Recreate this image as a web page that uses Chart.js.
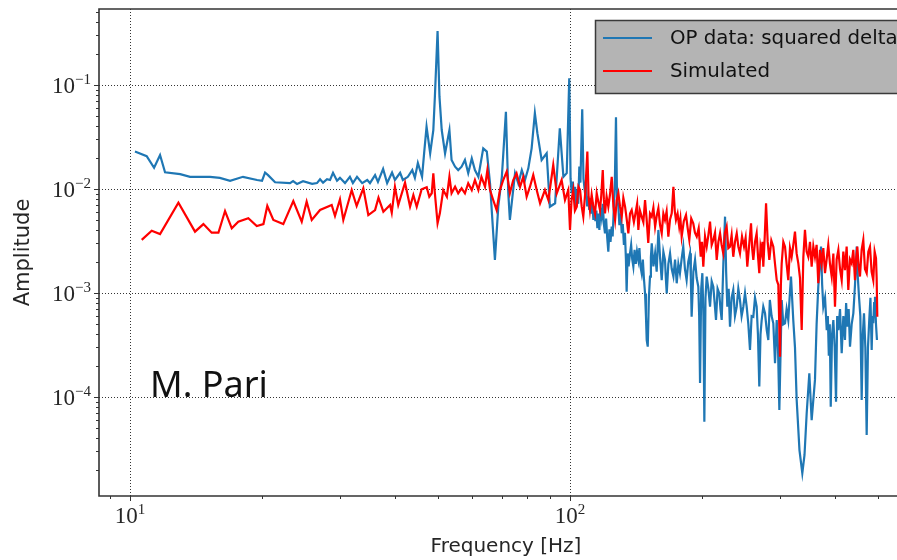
<!DOCTYPE html>
<html>
<head>
<meta charset="utf-8">
<script src="https://cdn.jsdelivr.net/npm/chart.js@4.4.0/dist/chart.umd.min.js"></script>
<style>
  html, body { margin: 0; padding: 0; background: #fff; overflow: hidden; }
  #wrap { width: 897px; height: 560px; overflow: hidden; }
  canvas { display: block; }
</style>
</head>
<body>
<div id="wrap"><canvas id="psd" width="920" height="560"></canvas></div>
<script>
// measured spectrum (OP data): [frequency Hz, amplitude]
const opData = [
  [10.26, 0.0229], [10.91, 0.0207], [11.34, 0.0160], [11.70, 0.0212], [12.01, 0.0145], [13.0, 0.0139], [13.69, 0.0131],
  [15.2, 0.0131], [16.0, 0.0128], [16.88, 0.0120], [18.06, 0.0131], [19.44, 0.0122], [19.95, 0.0120], [20.27, 0.0144],
  [20.59, 0.0136], [21.36, 0.0116], [23.1, 0.0114], [23.47, 0.0119], [23.96, 0.0112], [24.73, 0.0119], [25.93, 0.0112],
  [26.6, 0.0114], [27.03, 0.0124], [27.46, 0.0115], [28.04, 0.0124], [28.48, 0.0122], [28.93, 0.0143], [29.54, 0.0120],
  [30.0, 0.0128], [30.8, 0.0114], [31.6, 0.0131], [32.1, 0.0114], [32.8, 0.0131], [33.7, 0.0114], [34.6, 0.0122],
  [35.1, 0.0114], [36.05, 0.0136], [36.6, 0.0117], [37.6, 0.0156], [38.4, 0.0114], [39.4, 0.0144], [40.0, 0.0122],
  [41.1, 0.0143], [41.7, 0.0122], [42.8, 0.0131], [43.8, 0.0152], [44.4, 0.0128], [45.1, 0.0178], [46.1, 0.0131],
  [46.6, 0.0220], [47.2, 0.0397], [48.1, 0.0220], [48.9, 0.0369], [49.3, 0.0772], [50.0, 0.330], [50.5, 0.0772],
  [51.1, 0.0369], [52.0, 0.0220], [53.2, 0.0369], [53.8, 0.0190], [54.8, 0.0164], [55.7, 0.0152], [56.7, 0.0164],
  [57.7, 0.0190], [58.7, 0.0142], [59.8, 0.0197], [60.8, 0.0152], [61.9, 0.0131], [63.5, 0.0246], [64.7, 0.0229],
  [65.8, 0.0113], [67.5, 0.00208], [68.7, 0.00676], [70.0, 0.0131], [71.5, 0.0553], [72.4, 0.0091], [73.0, 0.00504],
  [75.0, 0.0142], [76.3, 0.0113], [77.7, 0.0152], [79.0, 0.0122], [80.4, 0.0158], [81.8, 0.0246], [83.2, 0.0535],
  [84.3, 0.0344], [86.2, 0.0190], [88.5, 0.0220], [90.0, 0.00676], [92.5, 0.00729], [94.8, 0.0384], [96.6, 0.0131],
  [98.3, 0.0142], [99.6, 0.116], [100.3, 0.0125], [100.9, 0.0091], [101.5, 0.0118], [102.1, 0.0082], [102.7, 0.0105],
  [103.2, 0.0068], [103.8, 0.0098], [104.4, 0.0072], [105.0, 0.0164], [105.6, 0.0115], [106.6, 0.0584], [107.3, 0.0125],
  [108.2, 0.0091], [108.8, 0.0105], [109.4, 0.0068], [110.0, 0.0085], [110.6, 0.00628], [111.2, 0.0082], [111.8, 0.0058],
  [112.4, 0.0075], [113.0, 0.00504], [113.6, 0.0068], [114.2, 0.0049], [114.8, 0.0062], [115.4, 0.0042], [116.0, 0.0058],
  [116.6, 0.00404], [117.3, 0.0066], [118.0, 0.00542], [118.7, 0.0072], [119.4, 0.0046], [120.1, 0.00375], [120.8, 0.0052],
  [121.5, 0.0034], [122.2, 0.00250], [122.9, 0.0041], [123.6, 0.0031], [124.4, 0.00434], [125.0, 0.0035], [125.7, 0.0062],
  [126.4, 0.0105], [127.2, 0.0489], [127.9, 0.0082], [128.8, 0.00676], [129.5, 0.0045], [130.3, 0.0058], [131.1, 0.00375],
  [131.8, 0.0046], [132.6, 0.0029], [133.3, 0.0038], [134.0, 0.0021], [134.5, 0.00103], [135.2, 0.0024], [135.9, 0.0018],
  [136.9, 0.00241], [137.7, 0.0029], [138.5, 0.0021], [139.3, 0.00179], [140.2, 0.0026], [141.1, 0.0019], [142.0, 0.0025],
  [143.0, 0.00208], [143.8, 0.0027], [144.6, 0.0018], [145.5, 0.00155], [146.4, 0.0021], [147.2, 0.0014], [148.1, 0.00099],
  [148.8, 0.0006], [149.4, 0.000353], [150.2, 0.000305], [151.1, 0.0009], [152.0, 0.00144], [152.7, 0.0022], [153.4, 0.00301],
  [154.7, 0.0018], [156.1, 0.00241], [157.4, 0.0016], [158.8, 0.00404], [160.2, 0.0022], [161.6, 0.00133], [163.0, 0.0025],
  [164.4, 0.00208], [165.1, 0.0014], [165.9, 0.00099], [167.3, 0.0019], [168.8, 0.00241], [170.3, 0.0017], [171.8, 0.00144],
  [173.3, 0.0021], [174.8, 0.00124], [176.3, 0.0019], [177.8, 0.00155], [179.3, 0.0021], [180.9, 0.00279], [182.5, 0.0017],
  [184.1, 0.00133], [185.7, 0.0020], [187.4, 0.00241], [188.2, 0.0014], [189.0, 0.00059], [190.7, 0.0016], [192.4, 0.00208],
  [194.0, 0.0014], [195.7, 0.00115], [196.6, 0.0006], [197.5, 0.000136], [198.7, 0.0011], [199.9, 0.00155], [201.0, 0.0006],
  [202.0, 0.0000579], [203.2, 0.0009], [204.5, 0.00144], [206.3, 0.0011], [208.1, 0.000738], [209.9, 0.0013], [211.7, 0.00115],
  [213.2, 0.0008], [214.7, 0.00055], [216.5, 0.0011], [218.4, 0.00099], [219.8, 0.0007], [221.2, 0.00055], [223.1, 0.0019],
  [225.1, 0.00542], [226.4, 0.0016], [227.8, 0.000738], [229.4, 0.0011], [231.0, 0.000475], [233.0, 0.0009], [235.0, 0.00107],
  [237.1, 0.0006], [239.3, 0.000738], [241.3, 0.0011], [243.4, 0.000857], [245.5, 0.0006], [247.7, 0.000738], [249.9, 0.001],
  [252.1, 0.000738], [254.3, 0.0005], [256.5, 0.000283], [258.7, 0.0006], [261.0, 0.00059], [263.3, 0.0009], [265.6, 0.000738],
  [267.4, 0.0004], [269.3, 0.000126], [271.0, 0.0004], [272.7, 0.00055], [275.0, 0.000738], [277.5, 0.000638], [280.0, 0.00044],
  [282.3, 0.000353], [284.6, 0.000857], [287.2, 0.0006], [289.8, 0.000511], [292.4, 0.000211], [295.0, 0.00055], [297.0, 0.0003],
  [299.1, 0.000075], [302.8, 0.000857], [305.4, 0.0005], [308.1, 0.000511], [310.7, 0.0007], [313.4, 0.00055], [315.6, 0.0009],
  [317.9, 0.00144], [321.7, 0.00055], [324.6, 0.0003], [327.5, 0.0000936], [332.3, 0.0000309], [337.3, 0.0000185], [341.2, 0.0000277],
  [345.1, 0.0000697], [349.9, 0.000169], [354.2, 0.000060], [360.4, 0.000146], [363.5, 0.0005], [366.7, 0.00115], [372.0, 0.00279],
  [374.2, 0.0012], [376.5, 0.000738], [379.9, 0.0009], [383.3, 0.00044], [385.5, 0.0006], [387.5, 0.00025], [389.4, 0.0005],
  [391.4, 0.0000807], [394.1, 0.0004], [396.8, 0.00055], [399.6, 0.0003], [402.4, 0.0000902], [404.8, 0.0006], [407.3, 0.00044],
  [410.9, 0.0007], [414.5, 0.000263], [418.1, 0.0006], [421.7, 0.000353], [424.2, 0.0008], [426.8, 0.000474], [429.9, 0.0007],
  [432.9, 0.000305], [436.7, 0.0005], [440.5, 0.000638], [444.4, 0.0012], [448.4, 0.00279], [451.1, 0.0014], [453.8, 0.00092],
  [457.0, 0.0006], [460.2, 0.0000936], [463.0, 0.0004], [465.8, 0.000638], [469.1, 0.0003], [472.4, 0.0000432], [475.6, 0.0003],
  [478.8, 0.00055], [481.8, 0.0009], [484.9, 0.000283], [487.0, 0.0006], [489.0, 0.000511], [491.2, 0.0008], [493.4, 0.00092],
  [496.0, 0.0005], [498.5, 0.000353]
];

// simulated spectrum: [frequency Hz, amplitude]
const simData = [
  [10.63, 0.00324], [11.2, 0.00397], [11.70, 0.00369], [12.88, 0.00738], [14.05, 0.00389], [14.68, 0.0046], [15.33, 0.0038],
  [15.88, 0.0038], [16.44, 0.00614], [17.03, 0.00419], [17.62, 0.00485], [18.57, 0.00523], [19.41, 0.00441], [20.1, 0.0046],
  [20.51, 0.00687], [21.17, 0.00504], [22.3, 0.0046], [23.5, 0.00767], [24.56, 0.00485], [25.2, 0.00755], [25.88, 0.00504],
  [27.03, 0.00628], [28.73, 0.00702], [29.23, 0.0055], [30.0, 0.00796], [30.53, 0.00504], [31.9, 0.00977], [32.74, 0.00687],
  [33.9, 0.01016], [34.8, 0.00562], [36.05, 0.00628], [36.7, 0.00824], [37.65, 0.00605], [39.0, 0.00702], [39.34, 0.00593],
  [40.0, 0.01052], [40.7, 0.00702], [42.17, 0.0115], [43.3, 0.00676], [44.05, 0.00875], [44.83, 0.00676], [46.0, 0.00993],
  [47.24, 0.01038], [47.88, 0.00843], [48.5, 0.0091], [48.9, 0.01416], [49.3, 0.0091], [50.0, 0.00468], [50.6, 0.00584],
  [51.5, 0.00977], [52.5, 0.00843], [53.2, 0.01313], [53.8, 0.0091], [54.8, 0.01052], [55.7, 0.0091], [56.7, 0.01016],
  [57.7, 0.0091], [58.7, 0.01135], [59.8, 0.00977], [60.8, 0.0122], [61.9, 0.00977], [62.9, 0.0131], [64.1, 0.01052],
  [64.9, 0.01524], [65.8, 0.00977], [66.9, 0.00784], [68.1, 0.00628], [69.3, 0.00977], [70.5, 0.0122], [71.8, 0.01467],
  [73.0, 0.0091], [74.3, 0.0122], [75.6, 0.01416], [77.0, 0.01052], [78.3, 0.0131], [79.7, 0.00843], [81.1, 0.01052],
  [82.5, 0.01364], [84.0, 0.00977], [85.5, 0.00729], [87.7, 0.00977], [89.3, 0.00784], [91.6, 0.01702], [93.3, 0.0091],
  [95.7, 0.0122], [97.4, 0.00784], [99.1, 0.00977], [100.0, 0.00404], [100.8, 0.0078], [101.7, 0.00977], [102.6, 0.0062],
  [103.6, 0.00676], [104.5, 0.0105], [105.4, 0.00977], [106.3, 0.0068], [107.2, 0.00542], [108.3, 0.0092], [109.5, 0.0229],
  [110.2, 0.0085], [111.0, 0.00628], [112.0, 0.0088], [113.0, 0.00676], [114.0, 0.0058], [115.0, 0.0091], [116.0, 0.0075],
  [117.0, 0.00628], [117.8, 0.0088], [118.7, 0.0152], [119.4, 0.0079], [120.1, 0.00584], [121.1, 0.0085], [122.2, 0.00676],
  [123.3, 0.0089], [124.4, 0.0131], [125.5, 0.0068], [126.6, 0.00504], [127.7, 0.0078], [128.8, 0.0091], [129.9, 0.0068],
  [131.1, 0.00542], [132.2, 0.0082], [133.4, 0.00676], [134.5, 0.0052], [135.7, 0.00375], [136.9, 0.0058], [138.1, 0.00628],
  [139.7, 0.0048], [141.3, 0.00628], [142.1, 0.0072], [143.0, 0.00404], [144.2, 0.0062], [145.5, 0.00542], [146.8, 0.0048],
  [148.1, 0.00784], [149.3, 0.0052], [150.6, 0.00303], [152.0, 0.0058], [153.4, 0.00542], [154.7, 0.0066], [156.1, 0.00434],
  [157.4, 0.0055], [158.8, 0.00652], [160.2, 0.0045], [161.6, 0.00375], [163.0, 0.0058], [164.4, 0.00504], [165.8, 0.0061],
  [167.3, 0.00348], [168.8, 0.0051], [170.3, 0.00584], [171.8, 0.01052], [173.0, 0.0062], [174.1, 0.00504], [175.6, 0.0058],
  [177.1, 0.00434], [178.2, 0.0052], [179.4, 0.00348], [181.4, 0.0049], [183.5, 0.00562], [185.1, 0.0042], [186.7, 0.00324],
  [188.6, 0.0052], [190.6, 0.00468], [192.3, 0.0038], [194.1, 0.00348], [196.1, 0.0042], [198.2, 0.00223], [199.5, 0.0031],
  [200.9, 0.00179], [202.7, 0.0035], [204.5, 0.00279], [206.3, 0.0036], [208.1, 0.00485], [209.9, 0.0029], [211.7, 0.00324],
  [213.6, 0.0038], [215.5, 0.00208], [217.4, 0.0031], [219.3, 0.00375], [221.1, 0.0029], [223.0, 0.00241], [225.0, 0.0038],
  [227.0, 0.00434], [229.0, 0.0027], [231.0, 0.00279], [233.0, 0.0036], [235.0, 0.00223], [237.1, 0.0031], [239.3, 0.00375],
  [241.3, 0.0028], [243.4, 0.00241], [246.0, 0.0035], [248.6, 0.00279], [250.7, 0.0034], [252.9, 0.00179], [255.4, 0.0029],
  [257.9, 0.00468], [259.4, 0.0027], [261.0, 0.00208], [263.3, 0.0031], [265.6, 0.00375], [267.4, 0.0023], [269.3, 0.00155],
  [271.0, 0.0028], [272.7, 0.00241], [273.8, 0.0031], [275.0, 0.00179], [277.0, 0.0034], [279.0, 0.00729], [281.4, 0.0031],
  [283.8, 0.00208], [286.8, 0.0032], [289.8, 0.00279], [292.4, 0.0019], [295.0, 0.00133], [297.5, 0.0012], [300.1, 0.000244],
  [301.5, 0.0012], [302.8, 0.00193], [305.4, 0.0031], [308.1, 0.00279], [310.7, 0.0019], [313.4, 0.00133], [316.2, 0.0027],
  [319.0, 0.00223], [321.8, 0.0029], [324.6, 0.00389], [327.4, 0.0024], [330.3, 0.00193], [333.2, 0.0014], [336.2, 0.00044],
  [339.1, 0.0022], [342.0, 0.00404], [345.0, 0.0025], [348.0, 0.00223], [351.1, 0.0031], [354.2, 0.00179], [357.3, 0.0028],
  [360.4, 0.00223], [363.5, 0.0029], [366.7, 0.00124], [370.0, 0.0026], [373.3, 0.00193], [376.5, 0.0027], [379.8, 0.00155],
  [383.1, 0.0021], [386.4, 0.0029], [389.9, 0.0019], [393.4, 0.00144], [396.8, 0.0024], [400.2, 0.000738], [403.7, 0.0021],
  [407.3, 0.00259], [410.9, 0.0017], [414.5, 0.00133], [418.1, 0.0025], [421.7, 0.00166], [425.4, 0.0028], [429.1, 0.00107],
  [432.9, 0.0021], [436.7, 0.00193], [440.5, 0.0026], [444.4, 0.00133], [447.1, 0.0021], [449.8, 0.00279], [453.0, 0.0018],
  [456.1, 0.00144], [460.1, 0.0026], [464.1, 0.00324], [468.2, 0.0017], [472.4, 0.00155], [476.5, 0.0025], [480.6, 0.00279],
  [484.8, 0.0016], [489.0, 0.00133], [492.5, 0.0025], [496.0, 0.00216], [497.7, 0.0014], [499.4, 0.00059]
];

const seriesNames = ['OP data: squared delta', 'Simulated'];
const seriesColors = ['#1f77b4', '#ff0000'];

// axis ticks (major decades) and their labels as 10^exp
const xMajor = [10, 100];
const xMajorExp = ['1', '2'];
const yMajor = [1e-1, 1e-2, 1e-3, 1e-4];
const yMajorExp = ['\u22121', '\u22122', '\u22123', '\u22124'];

const xLimits = [8.5, 602];
const yLimits = [1.117e-5, 0.538];

const toPoints = rows => rows.map(r => ({ x: r[0], y: r[1] }));

const serif = '"Liberation Serif", "DejaVu Serif", serif';
const sans = '"DejaVu Sans", sans-serif';
const ink = '#262626';

function powLabel(ctx, exp) {
  ctx.font = '23px ' + serif;
  const wb = ctx.measureText('10').width;
  ctx.font = '15px ' + serif;
  const we = ctx.measureText(exp).width;
  return { wb: wb, we: we };
}

const mplLook = {
  id: 'mplLook',
  beforeDatasetsDraw(chart) {
    const { ctx, chartArea: a, scales: { x, y } } = chart;
    ctx.save();
    ctx.strokeStyle = '#000';
    ctx.lineWidth = 0.8;
    ctx.setLineDash([1, 2]);
    xMajor.forEach(v => {
      const px = Math.round(x.getPixelForValue(v)) + 0.5;
      ctx.beginPath(); ctx.moveTo(px, a.top); ctx.lineTo(px, a.bottom); ctx.stroke();
    });
    yMajor.forEach(v => {
      const py = Math.round(y.getPixelForValue(v)) + 0.5;
      ctx.beginPath(); ctx.moveTo(a.left, py); ctx.lineTo(a.right, py); ctx.stroke();
    });
    ctx.restore();
  },
  afterDraw(chart) {
    const { ctx, chartArea: a, scales: { x, y } } = chart;
    ctx.save();

    // spines
    ctx.strokeStyle = '#333';
    ctx.lineWidth = 1.6;
    ctx.beginPath();
    ctx.moveTo(a.right, a.top); ctx.lineTo(a.left, a.top);
    ctx.lineTo(a.left, a.bottom); ctx.lineTo(a.right, a.bottom);
    ctx.stroke();

    // tick marks, major and minor
    ctx.lineWidth = 1;
    for (let d = 1; d <= 100; d *= 10) {
      for (let k = 1; k < 10; k++) {
        const v = k * d;
        if (v < xLimits[0] || v > xLimits[1]) continue;
        const px = Math.round(x.getPixelForValue(v)) + 0.5;
        const len = k === 1 ? 5 : 3;
        ctx.beginPath(); ctx.moveTo(px, a.bottom); ctx.lineTo(px, a.bottom + len); ctx.stroke();
      }
    }
    for (let d = 1e-5; d <= 0.11; d *= 10) {
      for (let k = 1; k < 10; k++) {
        const v = k * d;
        if (v < yLimits[0] || v > yLimits[1]) continue;
        const py = Math.round(y.getPixelForValue(v)) + 0.5;
        const len = k === 1 ? 5 : 3;
        ctx.beginPath(); ctx.moveTo(a.left, py); ctx.lineTo(a.left - len, py); ctx.stroke();
      }
    }

    // tick labels
    ctx.fillStyle = ink;
    ctx.textBaseline = 'alphabetic';
    ctx.textAlign = 'left';
    yMajor.forEach((v, i) => {
      const py = y.getPixelForValue(v);
      const m = powLabel(ctx, yMajorExp[i]);
      const right = a.left - 8;
      ctx.font = '23px ' + serif;
      ctx.fillText('10', right - m.we - m.wb, py + 8);
      ctx.font = '15px ' + serif;
      ctx.fillText(yMajorExp[i], right - m.we, py - 1);
    });
    xMajor.forEach((v, i) => {
      const px = x.getPixelForValue(v);
      const m = powLabel(ctx, xMajorExp[i]);
      const left = px - (m.wb + m.we) / 2;
      ctx.font = '23px ' + serif;
      ctx.fillText('10', left, a.bottom + 27);
      ctx.font = '15px ' + serif;
      ctx.fillText(xMajorExp[i], left + m.wb, a.bottom + 18);
    });

    // axis titles
    ctx.font = '20px ' + sans;
    ctx.textAlign = 'center';
    ctx.textBaseline = 'middle';
    ctx.fillText('Frequency [Hz]', (a.left + a.right) / 2, 547);
    ctx.save();
    ctx.translate(24, (a.top + a.bottom) / 2);
    ctx.rotate(-Math.PI / 2);
    ctx.font = '21px ' + sans;
    ctx.fillText('Amplitude', 0, 0);
    ctx.restore();

    // legend
    const lx = 595, ly = 20, lw = 310, lh = 73;
    ctx.fillStyle = '#b4b4b4';
    ctx.fillRect(lx, ly, lw, lh);
    ctx.strokeStyle = '#3a3a3a';
    ctx.lineWidth = 1.5;
    ctx.strokeRect(lx + 0.5, ly + 0.5, lw, lh);
    const rows = [38, 71];
    seriesNames.forEach((name, i) => {
      ctx.strokeStyle = seriesColors[i];
      ctx.lineWidth = 2.2;
      ctx.beginPath(); ctx.moveTo(603, rows[i]); ctx.lineTo(652, rows[i]); ctx.stroke();
      ctx.fillStyle = '#111';
      ctx.font = '19.8px ' + sans;
      ctx.textAlign = 'left';
      ctx.textBaseline = 'middle';
      ctx.fillText(name, 670, rows[i] + 1);
    });

    // author mark
    ctx.fillStyle = '#111';
    ctx.font = '36px "Noto Sans", sans-serif';
    ctx.textAlign = 'left';
    ctx.textBaseline = 'alphabetic';
    ctx.fillText('M. Pari', 150, 397);

    ctx.restore();
  }
};

const ctx = document.getElementById('psd').getContext('2d');
new Chart(ctx, {
  type: 'line',
  data: {
    datasets: [
      {
        label: seriesNames[0],
        data: toPoints(opData),
        borderColor: seriesColors[0],
        borderWidth: 2.2,
        pointRadius: 0,
        tension: 0,
        order: 2,
      },
      {
        label: seriesNames[1],
        data: toPoints(simData),
        borderColor: seriesColors[1],
        borderWidth: 2.2,
        pointRadius: 0,
        tension: 0,
        order: 1,
      },
    ],
  },
  options: {
    responsive: false,
    animation: false,
    devicePixelRatio: 1,
    layout: { padding: { top: 9, right: 7, left: 0, bottom: 0 } },
    plugins: { legend: { display: false }, tooltip: { enabled: false } },
    scales: {
      x: {
        type: 'logarithmic',
        min: xLimits[0],
        max: xLimits[1],
        grid: { display: false },
        border: { display: false },
        ticks: { display: false },
        afterFit: s => { s.height = 64; },
      },
      y: {
        type: 'logarithmic',
        min: yLimits[0],
        max: yLimits[1],
        grid: { display: false },
        border: { display: false },
        ticks: { display: false },
        afterFit: s => { s.width = 99; },
      },
    },
  },
  plugins: [mplLook],
});
</script>
</body>
</html>
